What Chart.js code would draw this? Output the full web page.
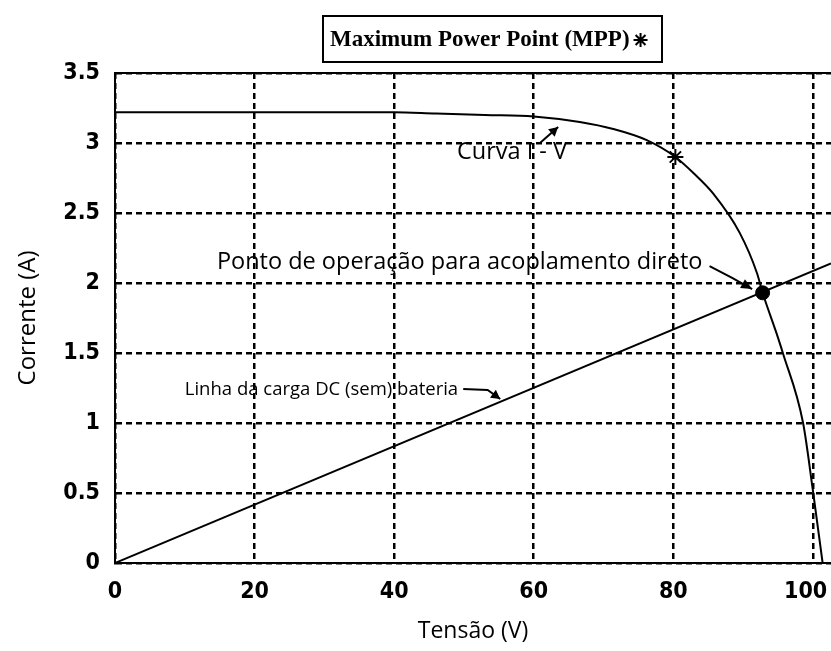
<!DOCTYPE html>
<html><head><meta charset="utf-8">
<script src="https://cdn.jsdelivr.net/npm/chart.js@4.4.1/dist/chart.umd.min.js"></script>
<style>html,body{margin:0;padding:0;background:#fff;overflow:hidden}</style>
</head><body>
<canvas id="c" width="831" height="651"></canvas>
<script>
// ---- data ----
const ivVoltage = [0, 20, 40, 46, 53, 60, 66.6, 71.4, 76.2, 80.3, 83, 85.7, 89.5, 92, 92.8, 94.8, 95.7, 98.6, 100, 101.4];
const ivCurrent = [3.22, 3.22, 3.22, 3.21, 3.2, 3.19, 3.15, 3.1, 3.02, 2.9, 2.78, 2.64, 2.36, 2.07, 1.93, 1.64, 1.5, 1.0, 0.52, 0];
const loadVoltage = [0, 102.6];
const loadCurrent = [0, 2.14];
const mppVoltage = [80.3];
const mppCurrent = [2.9];
const opVoltage = [92.8];
const opCurrent = [1.93];
const xTicks = [0, 20, 40, 60, 80, 100];
const yTicks = [0, 0.5, 1, 1.5, 2, 2.5, 3, 3.5];
const xTitle = 'Tensão (V)';
const yTitle = 'Corrente (A)';
const legendLabel = 'Maximum Power Point (MPP)';
const noteCurve = 'Curva I - V';
const noteOp = 'Ponto de operação para acoplamento direto';
const noteLoad = 'Linha da carga DC (sem) bateria';

const zip = (xs, ys) => xs.map((x, i) => ({x: x, y: ys[i]}));

function drawArrow(ctx, pts, hl, hw) {
  ctx.beginPath();
  ctx.moveTo(pts[0][0], pts[0][1]);
  for (let i = 1; i < pts.length; i++) ctx.lineTo(pts[i][0], pts[i][1]);
  ctx.stroke();
  const [x1, y1] = pts[pts.length - 2], [x2, y2] = pts[pts.length - 1];
  const a = Math.atan2(y2 - y1, x2 - x1);
  ctx.beginPath();
  ctx.moveTo(x2, y2);
  ctx.lineTo(x2 - hl * Math.cos(a) + hw * Math.sin(a), y2 - hl * Math.sin(a) - hw * Math.cos(a));
  ctx.lineTo(x2 - hl * Math.cos(a) - hw * Math.sin(a), y2 - hl * Math.sin(a) + hw * Math.cos(a));
  ctx.closePath();
  ctx.fill();
}

const decor = {
  id: 'decor',
  afterDatasetsDraw(chart) {
    const ctx = chart.ctx, a = chart.chartArea;
    const xs = chart.scales.x, ys = chart.scales.y;
    const P = (v, i) => [xs.getPixelForValue(v), ys.getPixelForValue(i)];
    ctx.save();
    ctx.strokeStyle = '#000'; ctx.fillStyle = '#000'; ctx.lineWidth = 2; ctx.setLineDash([]);
    // solid frame (top, left, bottom)
    ctx.beginPath();
    ctx.moveTo(a.right, a.top); ctx.lineTo(a.left, a.top); ctx.lineTo(a.left, a.bottom); ctx.lineTo(a.right, a.bottom);
    ctx.stroke();
    // annotations
    ctx.textBaseline = 'middle'; ctx.textAlign = 'left';
    ctx.font = '23.5px "Open Sans"';
    let p = P(49.0, 2.936); ctx.fillText(noteCurve, p[0], p[1]);
    p = P(14.6, 2.15); ctx.fillText(noteOp, p[0], p[1]);
    ctx.font = '18.5px "Open Sans"';
    p = P(10.0, 1.236); ctx.fillText(noteLoad, p[0], p[1]);
    ctx.lineWidth = 2;
    drawArrow(ctx, [P(60.9, 3.0), P(63.5, 3.114)], 9, 5);
    drawArrow(ctx, [P(85.2, 2.12), P(88.5, 2.035), P(91.3, 1.957)], 11, 5);
    drawArrow(ctx, [P(49.9, 1.243), P(53.4, 1.236), P(55.2, 1.171)], 9, 5);
    // legend box
    ctx.lineWidth = 2;
    ctx.strokeRect(323, 16, 339, 46);
    ctx.font = 'bold 23px "Liberation Serif"';
    ctx.fillText(legendLabel, 330, 40);
    const w = ctx.measureText(legendLabel).width;
    const cx = 330 + w + 11, cy = 40, r = 7;
    ctx.lineWidth = 2;
    ctx.beginPath();
    ctx.moveTo(cx - r, cy); ctx.lineTo(cx + r, cy);
    ctx.moveTo(cx, cy - r); ctx.lineTo(cx, cy + r);
    const d = r * 0.707;
    ctx.moveTo(cx - d, cy - d); ctx.lineTo(cx + d, cy + d);
    ctx.moveTo(cx - d, cy + d); ctx.lineTo(cx + d, cy - d);
    ctx.stroke();
    ctx.restore();
  }
};

const gridOpts = {color: '#000', lineWidth: 2.5, drawTicks: false};
const borderOpts = {display: true, color: '#000', width: 2, dash: [6, 4]};
const tickFont = {family: '"DejaVu Sans Condensed", "DejaVu Sans"', size: 23, weight: 'bold'};
const titleFont = {family: '"Open Sans"', size: 23};

new Chart(document.getElementById('c'), {
  type: 'scatter',
  data: {
    datasets: [
      {data: zip(ivVoltage, ivCurrent), showLine: true, borderColor: '#000', borderWidth: 2, pointRadius: 0, cubicInterpolationMode: 'monotone'},
      {data: zip(loadVoltage, loadCurrent), showLine: true, borderColor: '#000', borderWidth: 2, pointRadius: 0},
      {data: zip(mppVoltage, mppCurrent), pointStyle: 'star', pointRadius: 8, borderColor: '#000', borderWidth: 2},
      {data: zip(opVoltage, opCurrent), pointStyle: 'circle', pointRadius: 7, backgroundColor: '#000', borderColor: '#000', borderWidth: 1}
    ]
  },
  options: {
    responsive: false,
    animation: false,
    events: [],
    layout: {autoPadding: false, padding: {top: 73, right: 0, left: 0, bottom: 0}},
    plugins: {legend: {display: false}, tooltip: {enabled: false}},
    scales: {
      x: {
        type: 'linear', min: 0, max: 102.6,
        afterBuildTicks: s => { s.ticks = xTicks.map(v => ({value: v})); },
        afterFit: s => { s.height = 88; s.paddingLeft = 0; s.paddingRight = 0; },
        grid: gridOpts, border: borderOpts,
        ticks: {color: '#000', font: tickFont, padding: 15, maxRotation: 0, autoSkip: false,
                callback: v => v === 100 ? '100  ' : String(v)},
        title: {display: true, text: xTitle, color: '#000', font: titleFont, padding: {top: 0, bottom: 6}}
      },
      y: {
        type: 'linear', min: 0, max: 3.5,
        afterBuildTicks: s => { s.ticks = yTicks.map(v => ({value: v})); },
        afterFit: s => { s.width = 115; s.paddingTop = 0; s.paddingBottom = 0; },
        grid: gridOpts, border: borderOpts,
        ticks: {color: '#000', font: tickFont, padding: 15, autoSkip: false, callback: v => String(v)},
        title: {display: true, text: yTitle, color: '#000', font: {family: '"Open Sans"', size: 24}, padding: {top: 14, bottom: 0}}
      }
    }
  },
  plugins: [decor]
});
</script>
</body></html>
